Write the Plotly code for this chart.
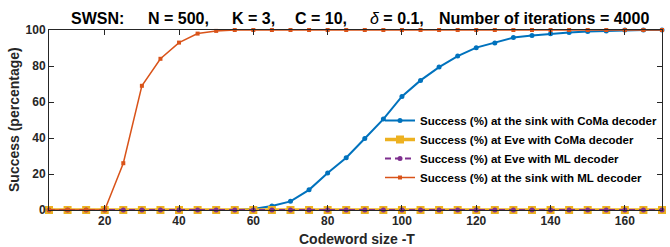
import plotly.graph_objects as go

T = list(range(5, 175, 5))
sink_coma = [0, 0, 0, 0, 0, 0, 0, 0, 0, 0, 0, 0.5, 2.2, 4.8, 11.2, 20.5, 29, 39.7, 50.5, 63.1,
             72, 79.4, 85.5, 90.2, 92.8, 95.8, 96.9, 97.9, 98.6, 99.2, 99.5, 100, 100, 100]
eve_coma = [0] * len(T)
eve_ml = [0] * len(T)
sink_ml = [0, 0, 0, 0, 26, 69, 84, 93, 98, 99.5, 100, 100, 100, 100, 100, 100, 100, 100, 100, 100,
           100, 100, 100, 100, 100, 100, 100, 100, 100, 100, 100, 100, 100, 100]

names = ["Success (%) at the sink with CoMa decoder",
         "Success (%) at Eve with CoMa decoder",
         "Success (%) at Eve with ML decoder",
         "Success (%) at the sink with ML decoder"]

x_ticks = [20, 40, 60, 80, 100, 120, 140, 160]
y_ticks = [0, 20, 40, 60, 80, 100]

BLUE = "#0072BD"
ORANGE = "#D95319"
YELLOW = "#EDB120"
PURPLE = "#7E2F8E"

fig = go.Figure()
fig.add_trace(go.Scatter(x=T, y=sink_coma, name=f"<b>{names[0]}</b>", mode="lines+markers",
                         line=dict(color=BLUE, width=2),
                         marker=dict(symbol="circle", size=5, color=BLUE),
                         cliponaxis=False))
fig.add_trace(go.Scatter(x=T, y=eve_coma, name=f"<b>{names[1]}</b>", mode="lines+markers",
                         line=dict(color=YELLOW, width=3.5),
                         marker=dict(symbol="square", size=8, color=YELLOW),
                         cliponaxis=False))
fig.add_trace(go.Scatter(x=T, y=eve_ml, name=f"<b>{names[2]}</b>", mode="lines+markers",
                         line=dict(color=PURPLE, width=1.8, dash="6px,4px"),
                         marker=dict(symbol="circle", size=5, color=PURPLE),
                         cliponaxis=False))
fig.add_trace(go.Scatter(x=T, y=sink_ml, name=f"<b>{names[3]}</b>", mode="lines+markers",
                         line=dict(color=ORANGE, width=1.5),
                         marker=dict(symbol="square", size=4, color=ORANGE),
                         cliponaxis=False))

L, R, TOP, B = 49, 8, 30, 37
W, H = 670, 247
pw = W - L - R
ph = H - TOP - B

def px(xpix):
    return (xpix - L) / pw

def py(ypix):
    return (H - B - ypix) / ph

title_font = dict(family="Liberation Sans Narrow, Arial Narrow, Liberation Sans, Arial", size=16, color="black")
segments = [("<b>SWSN:</b>", 69), ("<b>N = 500,</b>", 146), ("<b>K = 3,</b>", 230),
            ("<b>C = 10,</b>", 293), ("<i>δ</i><b> = 0.1,</b>", 368),
            ("<b>Number of iterations = 4000</b>", 437)]
for txt, xp in segments:
    fig.add_annotation(text=txt, x=px(xp), y=py(18), xref="paper", yref="paper",
                       xanchor="left", yanchor="middle", showarrow=False, font=title_font)

label_font = dict(family="Liberation Sans, Arial", size=14, color="#262626")
fig.add_annotation(text="<b>Codeword size -T</b>", x=px(357), y=py(239), xref="paper", yref="paper",
                   xanchor="center", yanchor="middle", showarrow=False, font=label_font)
fig.add_annotation(text="<b>Success (percentage)</b>", x=px(14), y=py(120), xref="paper", yref="paper",
                   xanchor="center", yanchor="middle", showarrow=False, textangle=-90, font=label_font)

axis_common = dict(showline=True, linecolor="#262626", linewidth=1, mirror="ticks",
                   ticks="inside", ticklen=5, tickcolor="#262626", showgrid=False,
                   zeroline=False, automargin=False,
                   tickfont=dict(family="Liberation Sans, Arial", size=12, color="#262626"))

fig.update_layout(
    width=W, height=H,
    margin=dict(l=L, r=R, t=TOP, b=B, autoexpand=False),
    plot_bgcolor="white", paper_bgcolor="white",
    showlegend=True,
    legend=dict(x=px(380), y=py(106), xanchor="left", yanchor="top",
                bgcolor="rgba(255,255,255,0)", borderwidth=0,
                itemwidth=30, tracegroupgap=0,
                font=dict(family="Liberation Sans, Arial", size=11.5, color="black")),
    xaxis=dict(range=[5, 170], tickvals=x_ticks, ticktext=[f"<b>{v}</b>" for v in x_ticks],
               **axis_common),
    yaxis=dict(range=[0, 100], tickvals=y_ticks, ticktext=[f"<b>{v}</b>" for v in y_ticks],
               **axis_common),
)

fig.write_html("out.html", config={"displayModeBar": False},
               post_script="document.body.style.margin='0px';document.body.style.overflow='hidden';")
